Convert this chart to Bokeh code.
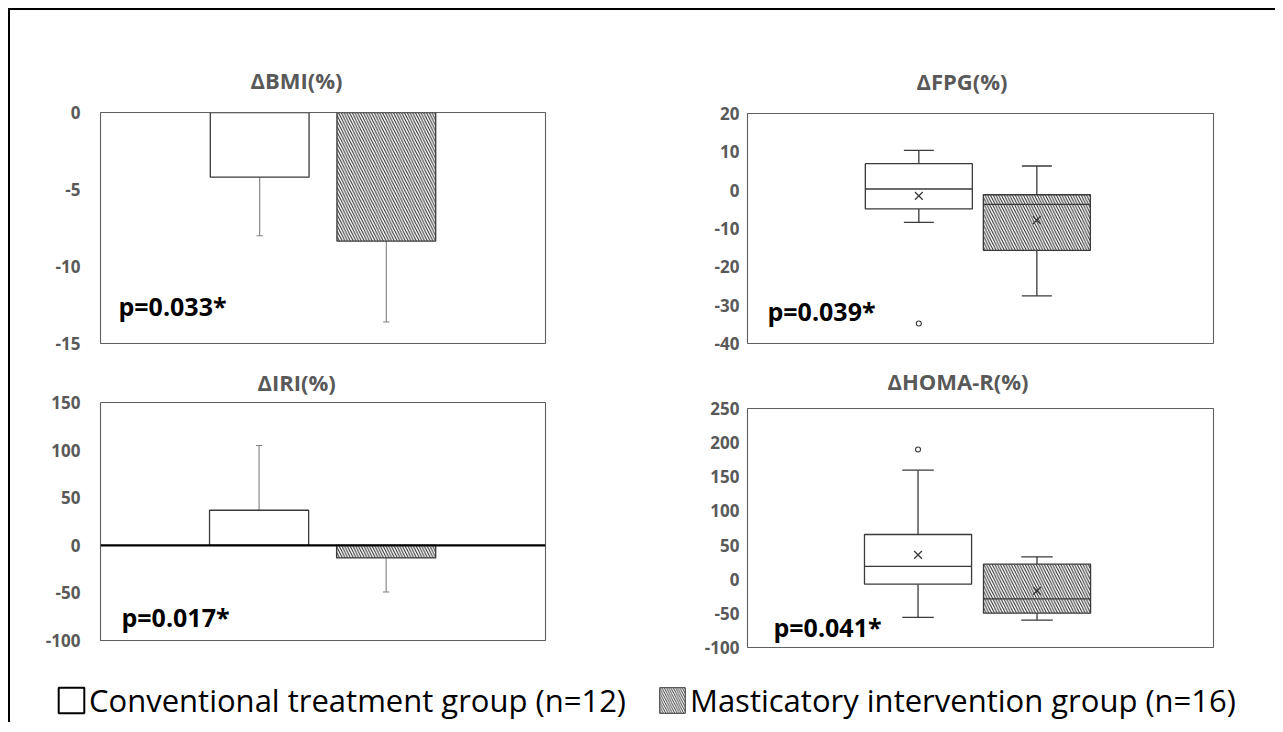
from bokeh.plotting import figure
from bokeh.models import Range1d, FixedTicker, Label, Span, Legend, LegendItem, ColumnDataSource
from bokeh.layouts import column, row
from bokeh.embed import file_html
from bokeh.resources import INLINE

# ---------------- data ----------------
groups = ["Conventional treatment group (n=12)", "Masticatory intervention group (n=16)"]
group_pos = [1, 2]
hatches = [" ", "\\"]

# ΔBMI(%) mean and SD
bmi_mean = [-4.2, -8.35]
bmi_sd = [3.8, 5.25]
bmi_ticks = [-15, -10, -5, 0]
bmi_p = "p=0.033*"

# ΔIRI(%) mean and SD
iri_mean = [36.8, -13.3]
iri_sd = [68.0, 35.7]
iri_ticks = [-100, -50, 0, 50, 100, 150]
iri_p = "p=0.017*"

# ΔFPG(%) box plot
fpg_q1 = [-4.9, -15.7]
fpg_med = [0.3, -3.7]
fpg_q3 = [6.9, -1.2]
fpg_lo = [-8.4, -27.6]
fpg_hi = [10.4, 6.3]
fpg_mean = [-1.5, -7.8]
fpg_out = [[-34.8], []]
fpg_ticks = [-40, -30, -20, -10, 0, 10, 20]
fpg_p = "p=0.039*"

# ΔHOMA-R(%) box plot
homa_q1 = [-7.2, -49.7]
homa_med = [18.7, -28.8]
homa_q3 = [65.5, 22.0]
homa_lo = [-56.0, -60.0]
homa_hi = [159.7, 32.8]
homa_mean = [35.7, -17.0]
homa_out = [[190.0], []]
homa_ticks = [-100, -50, 0, 50, 100, 150, 200, 250]
homa_p = "p=0.041*"

titles = ["\u0394BMI(%)", "\u0394FPG(%)", "\u0394IRI(%)", "\u0394HOMA-R(%)"]

# ---------------- style ----------------
FONT = "Open Sans"
GRAY = "#595959"
EDGE = "#3a3a3a"
FRAME = "#606060"
HATCH_COLOR = "#222222"


def make_panel(width, height, borders, x_rng, y_rng, ticks, standoff, title, t_offset, t_standoff):
    l, r, t, b = borders
    p = figure(width=width, height=height,
               x_range=Range1d(*x_rng), y_range=Range1d(*y_rng),
               x_axis_type=None, output_backend="svg", toolbar_location=None,
               min_border_left=l, min_border_right=r,
               min_border_top=t, min_border_bottom=b)
    p.grid.visible = False
    p.outline_line_color = FRAME
    p.outline_line_width = 1.1
    ax = p.yaxis[0]
    ax.ticker = FixedTicker(ticks=ticks)
    ax.major_label_overrides = {tk: str(tk) for tk in ticks}
    ax.axis_line_color = None
    ax.major_tick_line_color = None
    ax.minor_tick_line_color = None
    ax.major_tick_out = 0
    ax.major_tick_in = 0
    ax.major_label_standoff = standoff
    ax.major_label_text_font = FONT
    ax.major_label_text_font_style = "bold"
    ax.major_label_text_font_size = "17px"
    ax.major_label_text_color = GRAY
    p.title.text = title
    p.title.align = "left"
    p.title.vertical_align = "top"
    p.title.offset = t_offset
    p.title.standoff = t_standoff
    p.title.text_font = FONT
    p.title.text_font_style = "bold"
    p.title.text_font_size = "22px"
    p.title.text_color = GRAY
    return p


def add_p(p, text, x, y):
    p.add_layout(Label(x=x, y=y, x_units="screen", y_units="screen", text=text,
                       text_font=FONT, text_font_style="bold", text_font_size="25px",
                       text_color="black", text_align="left", text_baseline="alphabetic"))


def draw_bars(p, mean, sd, bar_w, cap_w):
    ends = [m + (s if m >= 0 else -s) for m, s in zip(mean, sd)]
    src = ColumnDataSource(dict(x=group_pos, top=mean, end=ends, hatch=hatches,
                                c0=[x - cap_w / 2 for x in group_pos],
                                c1=[x + cap_w / 2 for x in group_pos]))
    p.segment(x0="x", y0="top", x1="x", y1="end", source=src, line_color="#808080", line_width=1.1)
    p.segment(x0="c0", y0="end", x1="c1", y1="end", source=src, line_color="#808080", line_width=1.1)
    p.vbar(x="x", top="top", bottom=0, width=bar_w, source=src,
           fill_color="white", line_color=EDGE, line_width=1.3,
           hatch_pattern="hatch", hatch_color=HATCH_COLOR, hatch_scale=5.5, hatch_weight=1)


def draw_box(p, q1, med, q3, lo, hi, mean, outliers, box_w, cap_w):
    src = ColumnDataSource(dict(x=group_pos, q1=q1, med=med, q3=q3, lo=lo, hi=hi, mean=mean,
                                hatch=hatches,
                                b0=[x - box_w / 2 for x in group_pos],
                                b1=[x + box_w / 2 for x in group_pos],
                                c0=[x - cap_w / 2 for x in group_pos],
                                c1=[x + cap_w / 2 for x in group_pos]))
    kw = dict(source=src, line_color=EDGE, line_width=1.3)
    p.segment(x0="x", y0="q3", x1="x", y1="hi", **kw)
    p.segment(x0="x", y0="q1", x1="x", y1="lo", **kw)
    p.segment(x0="c0", y0="hi", x1="c1", y1="hi", **kw)
    p.segment(x0="c0", y0="lo", x1="c1", y1="lo", **kw)
    p.vbar(x="x", bottom="q1", top="q3", width=box_w, source=src,
           fill_color="white", line_color=EDGE, line_width=1.3,
           hatch_pattern="hatch", hatch_color=HATCH_COLOR, hatch_scale=5.5, hatch_weight=1)
    p.segment(x0="b0", y0="med", x1="b1", y1="med", **kw)
    p.scatter(x="x", y="mean", marker="x", size=11, source=src, line_color=EDGE, line_width=1.3)
    ox = [g for g, outs in zip(group_pos, outliers) for _ in outs]
    oy = [v for outs in outliers for v in outs]
    p.scatter(x=ox, y=oy, marker="circle", size=5, fill_color=None, line_color=EDGE, line_width=1.1)


# ---------------- panels ----------------
p_bmi = make_panel(630, 344, (90, 95, 102, 11), (-0.257, 3.257), (-15, 0), bmi_ticks, 20,
                   titles[0], 150, 32)
draw_bars(p_bmi, bmi_mean, bmi_sd, 0.78, 0.05)
add_p(p_bmi, bmi_p, 18, 38)

p_iri = make_panel(630, 304, (88, 95, 48, 18), (-0.248, 3.254), (-100, 150), iri_ticks, 20,
                   titles[2], 157, 8)
p_iri.add_layout(Span(location=0, dimension="width", line_color="black", line_width=2.2))
draw_bars(p_iri, iri_mean, iri_sd, 0.78, 0.05)
add_p(p_iri, iri_p, 21, 24)

p_fpg = make_panel(635, 344, (107, 62, 103, 11), (-0.452, 3.497), (-40, 20), fpg_ticks, 8,
                   titles[1], 169, 32)
draw_box(p_fpg, fpg_q1, fpg_med, fpg_q3, fpg_lo, fpg_hi, fpg_mean, fpg_out, 0.907, 0.254)
add_p(p_fpg, fpg_p, 20, 33)

p_homa = make_panel(635, 304, (107, 60, 54, 11), (-0.433, 3.483), (-100, 250), homa_ticks, 8,
                    titles[3], 140, 22)
draw_box(p_homa, homa_q1, homa_med, homa_q3, homa_lo, homa_hi, homa_mean, homa_out, 0.9, 0.265)
add_p(p_homa, homa_p, 26, 21)

# ---------------- legend ----------------
p_leg = figure(width=1265, height=64, x_range=Range1d(0, 1), y_range=Range1d(0, 1),
               x_axis_type=None, y_axis_type=None, output_backend="svg", toolbar_location=None,
               min_border=0, outline_line_color=None)
p_leg.grid.visible = False
r_conv = p_leg.vbar(x=[-5], top=[0], bottom=[0], width=0, fill_color="white",
                    line_color="black", line_width=2)
r_mast = p_leg.vbar(x=[-5], top=[0], bottom=[0], width=0, fill_color="white",
                    line_color=EDGE, line_width=1, hatch_pattern="\\",
                    hatch_color=HATCH_COLOR, hatch_scale=4.5, hatch_weight=0.9)
legend = Legend(items=[LegendItem(label=groups[0], renderers=[r_conv]),
                       LegendItem(label=groups[1], renderers=[r_mast])],
                orientation="horizontal", location=(45, 1),
                label_text_font=FONT, label_text_font_size="31px", label_text_color="black",
                glyph_width=32, glyph_height=32, label_standoff=2, spacing=30,
                padding=0, margin=0, border_line_color=None, background_fill_alpha=0)
p_leg.add_layout(legend, "center")

layout = column(row(column(p_bmi, p_iri), column(p_fpg, p_homa)), p_leg,
                styles={"border-left": "2px solid black", "border-top": "2px solid black",
                        "margin-left": "8px", "margin-top": "8px"})

open("out.html", "w").write(file_html(layout, INLINE))
